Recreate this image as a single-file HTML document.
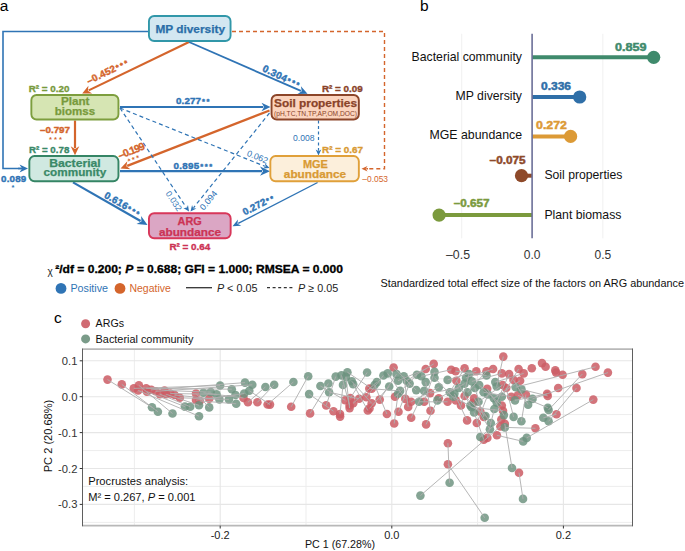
<!DOCTYPE html>
<html><head><meta charset="utf-8"><style>
html,body{margin:0;padding:0;background:#fff;}
svg{display:block;font-family:"Liberation Sans", sans-serif;}
</style></head><body>
<svg width="685" height="551" viewBox="0 0 685 551">
<rect width="685" height="551" fill="#fff"/>
<text x="-0.3" y="10.8" font-size="15.5" fill="#000" >a</text>
<polyline points="148,31.5 3,31.5 3,168.5 22,168.5" fill="none" stroke="#2f74b5" stroke-width="1.6"/>
<line x1="18" y1="168.5" x2="21.20" y2="168.50" stroke="#2f74b5" stroke-width="1.6"/>
<path d="M28.00,168.50 L19.50,172.50 L22.05,168.50 L19.50,164.50 Z" fill="#2f74b5"/>
<polyline points="232,31.5 384.5,31.5 384.5,168.8 368,168.8" fill="none" stroke="#d4652c" stroke-width="1.4" stroke-dasharray="4,3"/>
<line x1="368" y1="168.8" x2="366.30" y2="168.80" stroke="#d4652c" stroke-width="1.4"/>
<path d="M361.50,168.80 L367.50,166.00 L365.70,168.80 L367.50,171.60 Z" fill="#d4652c"/>
<line x1="189" y1="42" x2="88.69" y2="90.37" stroke="#d4652c" stroke-width="2.2"/>
<path d="M82.20,93.50 L88.44,85.72 L87.87,90.76 L92.17,93.46 Z" fill="#d4652c"/>
<line x1="189" y1="42" x2="300.90" y2="90.92" stroke="#2f74b5" stroke-width="1.8"/>
<path d="M307.50,93.80 L297.57,94.04 L301.73,91.28 L300.94,86.35 Z" fill="#2f74b5"/>
<line x1="120" y1="107" x2="263.30" y2="107.00" stroke="#2f74b5" stroke-width="1.9"/>
<path d="M270.50,107.00 L261.50,111.20 L264.20,107.00 L261.50,102.80 Z" fill="#2f74b5"/>
<line x1="75" y1="120.5" x2="75.00" y2="148.10" stroke="#d4652c" stroke-width="2.2"/>
<path d="M75.00,155.30 L70.70,146.30 L75.00,149.00 L79.30,146.30 Z" fill="#d4652c"/>
<line x1="269.5" y1="110.5" x2="127.21" y2="165.89" stroke="#d4652c" stroke-width="2.2"/>
<path d="M120.50,168.50 L127.33,161.23 L126.37,166.21 L130.45,169.24 Z" fill="#d4652c"/>
<line x1="120" y1="171.2" x2="262.00" y2="171.20" stroke="#2f74b5" stroke-width="2.2"/>
<path d="M270.00,171.20 L260.00,175.80 L263.00,171.20 L260.00,166.60 Z" fill="#2f74b5"/>
<line x1="120" y1="108" x2="265.05" y2="166.31" stroke="#2f74b5" stroke-width="1.2" stroke-dasharray="4,3"/>
<path d="M269.50,168.10 L262.89,168.46 L265.60,166.53 L264.98,163.26 Z" fill="#2f74b5"/>
<line x1="120" y1="108" x2="186.34" y2="207.51" stroke="#2f74b5" stroke-width="1.2" stroke-dasharray="4,3"/>
<path d="M189.00,211.50 L183.34,208.06 L186.67,208.01 L188.00,204.95 Z" fill="#2f74b5"/>
<line x1="269.5" y1="113" x2="193.50" y2="207.76" stroke="#2f74b5" stroke-width="1.2" stroke-dasharray="4,3"/>
<path d="M190.50,211.50 L192.07,205.07 L193.13,208.22 L196.44,208.57 Z" fill="#2f74b5"/>
<line x1="318.5" y1="120.5" x2="318.50" y2="150.70" stroke="#2f74b5" stroke-width="1.2" stroke-dasharray="3,2.5"/>
<path d="M318.50,155.50 L315.70,149.50 L318.50,151.30 L321.30,149.50 Z" fill="#2f74b5"/>
<line x1="73" y1="182.4" x2="140.56" y2="221.03" stroke="#2f74b5" stroke-width="2.2"/>
<path d="M147.50,225.00 L136.54,224.03 L141.42,221.53 L141.10,216.04 Z" fill="#2f74b5"/>
<line x1="317.6" y1="182.5" x2="238.19" y2="223.37" stroke="#2f74b5" stroke-width="1.4"/>
<path d="M232.50,226.30 L237.97,219.44 L237.48,223.74 L241.26,225.84 Z" fill="#2f74b5"/>
<rect x="148.95" y="15.95" width="81.6" height="25.1" rx="5.2" ry="5.2" fill="#d3e7f1" stroke="#3197a9" stroke-width="1.9"/>
<rect x="31.349999999999998" y="94.95" width="87.1" height="24.6" rx="5.2" ry="5.2" fill="#d6e5b3" stroke="#7d9e3e" stroke-width="1.9"/>
<rect x="271.55" y="94.95" width="87.29999999999998" height="24.6" rx="5.2" ry="5.2" fill="#fbd4be" stroke="#8c4529" stroke-width="1.9"/>
<rect x="29.349999999999998" y="156.04999999999998" width="89.1" height="25.199999999999996" rx="5.2" ry="5.2" fill="#d0e9e1" stroke="#358565" stroke-width="1.9"/>
<rect x="270.34999999999997" y="156.04999999999998" width="88.50000000000003" height="25.199999999999996" rx="5.2" ry="5.2" fill="#fcefdb" stroke="#e0a03a" stroke-width="1.9"/>
<rect x="148.95" y="213.25" width="81.69999999999999" height="24.99999999999998" rx="5.2" ry="5.2" fill="#dba6c4" stroke="#d8375a" stroke-width="1.9"/>
<text x="190.2" y="32.7" font-size="11.8" fill="#2a6ea8" font-weight="bold" stroke="#2a6ea8" stroke-width="0.25" text-anchor="middle" textLength="69.6" lengthAdjust="spacingAndGlyphs" >MP diversity</text>
<text x="75.2" y="105.3" font-size="10.6" fill="#789a3c" font-weight="bold" stroke="#789a3c" stroke-width="0.25" text-anchor="middle" textLength="28.6" lengthAdjust="spacingAndGlyphs" >Plant</text>
<text x="75" y="115.3" font-size="10.6" fill="#789a3c" font-weight="bold" stroke="#789a3c" stroke-width="0.25" text-anchor="middle" textLength="40.3" lengthAdjust="spacingAndGlyphs" >biomss</text>
<text x="315.5" y="107.3" font-size="11.2" fill="#8a4329" font-weight="bold" stroke="#8a4329" stroke-width="0.25" text-anchor="middle" textLength="83" lengthAdjust="spacingAndGlyphs" >Soil properties</text>
<text x="315.5" y="116" font-size="6.7" fill="#8a4329" text-anchor="middle" textLength="83" lengthAdjust="spacingAndGlyphs" >(pH,TC,TN,TP,AP,OM,DOC)</text>
<text x="75" y="166.8" font-size="10.6" fill="#3a8968" font-weight="bold" stroke="#3a8968" stroke-width="0.25" text-anchor="middle" textLength="51.5" lengthAdjust="spacingAndGlyphs" >Bacterial</text>
<text x="74.9" y="176.4" font-size="10.6" fill="#3a8968" font-weight="bold" stroke="#3a8968" stroke-width="0.25" text-anchor="middle" textLength="62.6" lengthAdjust="spacingAndGlyphs" >community</text>
<text x="315.4" y="167.8" font-size="10.6" fill="#d99a33" font-weight="bold" stroke="#d99a33" stroke-width="0.25" text-anchor="middle" textLength="25" lengthAdjust="spacingAndGlyphs" >MGE</text>
<text x="315" y="177.8" font-size="10.6" fill="#d99a33" font-weight="bold" stroke="#d99a33" stroke-width="0.25" text-anchor="middle" textLength="62.3" lengthAdjust="spacingAndGlyphs" >abundance</text>
<text x="189.7" y="224.8" font-size="10.6" fill="#cc3355" font-weight="bold" stroke="#cc3355" stroke-width="0.25" text-anchor="middle" textLength="24.2" lengthAdjust="spacingAndGlyphs" >ARG</text>
<text x="190" y="235.7" font-size="10.6" fill="#cc3355" font-weight="bold" stroke="#cc3355" stroke-width="0.25" text-anchor="middle" textLength="62.2" lengthAdjust="spacingAndGlyphs" >abundance</text>
<text x="28.7" y="92" font-size="9.8" fill="#789a3c" font-weight="bold" stroke="#789a3c" stroke-width="0.35" textLength="40.8" lengthAdjust="spacingAndGlyphs" >R² = 0.20</text>
<text x="321.9" y="92" font-size="9.8" fill="#8a4329" font-weight="bold" stroke="#8a4329" stroke-width="0.35" textLength="40.9" lengthAdjust="spacingAndGlyphs" >R² = 0.09</text>
<text x="29" y="152.9" font-size="9.8" fill="#3a8968" font-weight="bold" stroke="#3a8968" stroke-width="0.35" textLength="40.3" lengthAdjust="spacingAndGlyphs" >R² = 0.78</text>
<text x="322" y="152.9" font-size="9.8" fill="#d99a33" font-weight="bold" stroke="#d99a33" stroke-width="0.35" textLength="41" lengthAdjust="spacingAndGlyphs" >R² = 0.67</text>
<text x="169.4" y="249.5" font-size="9.8" fill="#cc3355" font-weight="bold" stroke="#cc3355" stroke-width="0.35" textLength="40.8" lengthAdjust="spacingAndGlyphs" >R² = 0.64</text>
<text x="40" y="133" font-size="9.8" font-weight="bold" fill="#d4652c" stroke="#d4652c" stroke-width="0.42"><tspan textLength="30" lengthAdjust="spacing">–0.797</tspan></text>
<text x="49" y="142" font-size="7.5" font-weight="bold" fill="#d4652c" textLength="13" lengthAdjust="spacing">***</text>
<text x="1" y="181.9" font-size="9.8" font-weight="bold" fill="#2f74b5" stroke="#2f74b5" stroke-width="0.42"><tspan textLength="25.3" lengthAdjust="spacing">0.089</tspan></text>
<text x="11.5" y="190" font-size="7.5" font-weight="bold" fill="#2f74b5">*</text>
<text x="173.6" y="168.8" font-size="9.8" font-weight="bold" fill="#2f74b5" stroke="#2f74b5" stroke-width="0.42"><tspan textLength="25.6" lengthAdjust="spacing">0.895</tspan><tspan font-size="7.5" dx="0.8" dy="0" textLength="12" lengthAdjust="spacing">***</tspan></text>
<text x="176" y="104" font-size="9.8" font-weight="bold" fill="#2f74b5" stroke="#2f74b5" stroke-width="0.42"><tspan textLength="25" lengthAdjust="spacing">0.277</tspan><tspan font-size="7.5" dx="0.8" dy="0" textLength="7.5" lengthAdjust="spacing">**</tspan></text>
<text x="88.8" y="84.5" font-size="9.8" font-weight="bold" fill="#d4652c" stroke="#d4652c" stroke-width="0.42" transform="rotate(-26.3 88.8 84.5)"><tspan textLength="31" lengthAdjust="spacing">–0.452</tspan><tspan font-size="7.5" dx="0.8" dy="0" textLength="12.5" lengthAdjust="spacing">***</tspan></text>
<text x="261.8" y="70.8" font-size="9.8" font-weight="bold" fill="#2f74b5" stroke="#2f74b5" stroke-width="0.42" transform="rotate(25.5 261.8 70.8)"><tspan textLength="26" lengthAdjust="spacing">0.304</tspan><tspan font-size="7.5" dx="0.8" dy="0" textLength="12.5" lengthAdjust="spacing">***</tspan></text>
<text x="103.5" y="197.2" font-size="9.8" font-weight="bold" fill="#2f74b5" stroke="#2f74b5" stroke-width="0.42" transform="rotate(29.8 103.5 197.2)"><tspan textLength="25.5" lengthAdjust="spacing">0.616</tspan><tspan font-size="7.5" dx="0.8" dy="0" textLength="12.5" lengthAdjust="spacing">***</tspan></text>
<text x="244.8" y="215.5" font-size="9.8" font-weight="bold" fill="#2f74b5" stroke="#2f74b5" stroke-width="0.42" transform="rotate(-27.3 244.8 215.5)"><tspan textLength="25" lengthAdjust="spacing">0.272</tspan><tspan font-size="7.5" dx="0.8" dy="0" textLength="7.5" lengthAdjust="spacing">**</tspan></text>
<text x="119.8" y="159.2" font-size="10.6" font-weight="bold" fill="#d4652c" stroke="#d4652c" stroke-width="0.3" transform="rotate(-21.5 119.8 159.2)"><tspan textLength="28" lengthAdjust="spacing">–0.199</tspan></text>
<text x="129" y="164.1" font-size="7.5" font-weight="bold" fill="#d4652c" textLength="12" lengthAdjust="spacing" transform="rotate(-21.5 129 164.1)">***</text>
<text x="293" y="141.1" font-size="8.6" fill="#2f74b5" textLength="21.5" lengthAdjust="spacingAndGlyphs" >0.008</text>
<text x="362.3" y="182" font-size="8.2" fill="#d4652c" textLength="25.7" lengthAdjust="spacingAndGlyphs" >–0.053</text>
<text x="256.35" y="159.67" font-size="8.6" fill="#2f74b5" text-anchor="middle" textLength="22" lengthAdjust="spacingAndGlyphs" transform="rotate(21.9 256.35 159.67)">0.062</text>
<text x="171.43" y="202.73" font-size="8.6" fill="#2f74b5" text-anchor="middle" textLength="22" lengthAdjust="spacingAndGlyphs" transform="rotate(56 171.43 202.73)">0.032</text>
<text x="210.81" y="202.15" font-size="8.6" fill="#2f74b5" text-anchor="middle" textLength="22" lengthAdjust="spacingAndGlyphs" transform="rotate(-51 210.81 202.15)">0.094</text>
<text x="47.5" y="275" font-size="10" fill="#222">χ</text>
<text x="55.2" y="273.2" font-size="10.3" font-weight="bold" fill="#000" stroke="#000" stroke-width="0.3" textLength="287.8" lengthAdjust="spacingAndGlyphs">²/df = 0.200; <tspan font-style="italic">P</tspan> = 0.688; GFI = 1.000; RMSEA = 0.000</text>
<circle cx="61" cy="288.4" r="5.4" fill="#2f74b5"/>
<text x="70.4" y="292.4" font-size="10.8" fill="#2f74b5" textLength="37.6" lengthAdjust="spacingAndGlyphs" >Positive</text>
<circle cx="120" cy="288.4" r="5.4" fill="#d4652c"/>
<text x="129.5" y="292.4" font-size="10.8" fill="#d4652c" textLength="41.3" lengthAdjust="spacingAndGlyphs" >Negative</text>
<line x1="186" y1="287.7" x2="212" y2="287.7" stroke="#333" stroke-width="1.3"/>
<text x="216.9" y="292.4" font-size="10.8" fill="#222"><tspan font-style="italic">P</tspan> &lt; 0.05</text>
<line x1="267" y1="287.7" x2="293" y2="287.7" stroke="#333" stroke-width="1.2" stroke-dasharray="3,2.6"/>
<text x="298" y="292.4" font-size="10.8" fill="#222"><tspan font-style="italic">P</tspan> ≥ 0.05</text>
<text x="420" y="10.9" font-size="15.5" fill="#000" >b</text>
<line x1="461.7" y1="33.8" x2="461.7" y2="238.3" stroke="#ececec" stroke-width="0.8"/>
<line x1="602.8" y1="33.8" x2="602.8" y2="238.3" stroke="#ececec" stroke-width="0.8"/>
<line x1="532.1" y1="57.3" x2="653.7" y2="57.3" stroke="#3f8a6c" stroke-width="4"/>
<circle cx="653.7" cy="57.3" r="6.6" fill="#3f8a6c"/>
<line x1="532.1" y1="97.0" x2="579.7" y2="97.0" stroke="#2f6fa8" stroke-width="4"/>
<circle cx="579.7" cy="97.0" r="6.6" fill="#2f6fa8"/>
<line x1="532.1" y1="136.4" x2="570.6" y2="136.4" stroke="#dc9a36" stroke-width="4"/>
<circle cx="570.6" cy="136.4" r="6.6" fill="#dc9a36"/>
<line x1="532.1" y1="175.7" x2="521.5" y2="175.7" stroke="#8e4a2a" stroke-width="4"/>
<circle cx="521.5" cy="175.7" r="6.6" fill="#8e4a2a"/>
<line x1="532.1" y1="215.1" x2="439.1" y2="215.1" stroke="#7b9a3d" stroke-width="4"/>
<circle cx="439.1" cy="215.1" r="6.6" fill="#7b9a3d"/>
<line x1="532.1" y1="33.8" x2="532.1" y2="238.3" stroke="#6b6f98" stroke-width="1.6"/>
<text x="522" y="60.6" font-size="12.2" fill="#111" text-anchor="end" textLength="110.5" lengthAdjust="spacingAndGlyphs" >Bacterial community</text>
<text x="522" y="99.8" font-size="12.2" fill="#111" text-anchor="end" textLength="66.4" lengthAdjust="spacingAndGlyphs" >MP diversity</text>
<text x="522" y="138.8" font-size="12.2" fill="#111" text-anchor="end" textLength="92.5" lengthAdjust="spacingAndGlyphs" >MGE abundance</text>
<text x="544.4" y="179.3" font-size="12.2" fill="#111" textLength="78" lengthAdjust="spacingAndGlyphs" >Soil properties</text>
<text x="544.4" y="218.7" font-size="12.2" fill="#111" textLength="77" lengthAdjust="spacingAndGlyphs" >Plant biomass</text>
<text x="615" y="51" font-size="10" font-weight="bold" fill="#3f8a6c" stroke="#3f8a6c" stroke-width="0.45" textLength="31.5" lengthAdjust="spacingAndGlyphs">0.859</text>
<text x="541" y="90" font-size="10" font-weight="bold" fill="#2f6fa8" stroke="#2f6fa8" stroke-width="0.45" textLength="30" lengthAdjust="spacingAndGlyphs">0.336</text>
<text x="536" y="129" font-size="10" font-weight="bold" fill="#dc9a36" stroke="#dc9a36" stroke-width="0.45" textLength="31" lengthAdjust="spacingAndGlyphs">0.272</text>
<text x="489.6" y="163.8" font-size="10" font-weight="bold" fill="#8e4a2a" stroke="#8e4a2a" stroke-width="0.45" textLength="36" lengthAdjust="spacingAndGlyphs">–0.075</text>
<text x="453.8" y="207.4" font-size="10" font-weight="bold" fill="#7b9a3d" stroke="#7b9a3d" stroke-width="0.45" textLength="35.8" lengthAdjust="spacingAndGlyphs">–0.657</text>
<text x="458" y="258.7" font-size="12" fill="#333" text-anchor="middle" textLength="24" lengthAdjust="spacingAndGlyphs" >–0.5</text>
<text x="532.1" y="258.7" font-size="12" fill="#333" text-anchor="middle" >0.0</text>
<text x="602.8" y="258.7" font-size="12" fill="#333" text-anchor="middle" >0.5</text>
<text x="380.5" y="286.7" font-size="10.9" fill="#111" textLength="303.5" lengthAdjust="spacingAndGlyphs" >Standardized total effect size of the factors on ARG abundance</text>
<text x="54" y="323.2" font-size="15.5" fill="#000" >c</text>
<circle cx="85.6" cy="323.7" r="4.5" fill="#d06a72"/>
<text x="95.6" y="327.2" font-size="10.8" fill="#111" textLength="28.4" lengthAdjust="spacingAndGlyphs" >ARGs</text>
<circle cx="85.6" cy="338.9" r="4.5" fill="#7a9b89"/>
<text x="95.6" y="342.8" font-size="10.9" fill="#111" textLength="97.9" lengthAdjust="spacingAndGlyphs" >Bacterial community</text>
<line x1="134.4" y1="349.1" x2="134.4" y2="525.7" stroke="#ededed" stroke-width="1"/>
<line x1="306.0" y1="349.1" x2="306.0" y2="525.7" stroke="#ededed" stroke-width="1"/>
<line x1="477.6" y1="349.1" x2="477.6" y2="525.7" stroke="#ededed" stroke-width="1"/>
<line x1="82.5" y1="378.8" x2="632.5" y2="378.8" stroke="#ededed" stroke-width="1"/>
<line x1="82.5" y1="414.6" x2="632.5" y2="414.6" stroke="#ededed" stroke-width="1"/>
<line x1="82.5" y1="450.6" x2="632.5" y2="450.6" stroke="#ededed" stroke-width="1"/>
<line x1="82.5" y1="486.4" x2="632.5" y2="486.4" stroke="#ededed" stroke-width="1"/>
<line x1="82.5" y1="522.4" x2="632.5" y2="522.4" stroke="#ededed" stroke-width="1"/>
<line x1="220.2" y1="349.1" x2="220.2" y2="525.7" stroke="#e6e6e6" stroke-width="1.1"/>
<line x1="391.8" y1="349.1" x2="391.8" y2="525.7" stroke="#e6e6e6" stroke-width="1.1"/>
<line x1="563.4" y1="349.1" x2="563.4" y2="525.7" stroke="#e6e6e6" stroke-width="1.1"/>
<line x1="82.5" y1="360.8" x2="632.5" y2="360.8" stroke="#e6e6e6" stroke-width="1.1"/>
<line x1="82.5" y1="396.7" x2="632.5" y2="396.7" stroke="#e6e6e6" stroke-width="1.1"/>
<line x1="82.5" y1="432.6" x2="632.5" y2="432.6" stroke="#e6e6e6" stroke-width="1.1"/>
<line x1="82.5" y1="468.5" x2="632.5" y2="468.5" stroke="#e6e6e6" stroke-width="1.1"/>
<line x1="82.5" y1="504.4" x2="632.5" y2="504.4" stroke="#e6e6e6" stroke-width="1.1"/>
<circle cx="107.5" cy="379.6" r="4.3" fill="#cc5d65" fill-opacity="0.86"/>
<circle cx="121.8" cy="384.4" r="4.3" fill="#cc5d65" fill-opacity="0.86"/>
<circle cx="133.8" cy="388.4" r="4.3" fill="#cc5d65" fill-opacity="0.86"/>
<circle cx="138.9" cy="385.4" r="4.3" fill="#cc5d65" fill-opacity="0.86"/>
<circle cx="138.2" cy="390.5" r="4.3" fill="#cc5d65" fill-opacity="0.86"/>
<circle cx="146.2" cy="388.4" r="4.3" fill="#cc5d65" fill-opacity="0.86"/>
<circle cx="151.3" cy="389.8" r="4.3" fill="#cc5d65" fill-opacity="0.86"/>
<circle cx="155.7" cy="391.3" r="4.3" fill="#cc5d65" fill-opacity="0.86"/>
<circle cx="164.5" cy="390.5" r="4.3" fill="#cc5d65" fill-opacity="0.86"/>
<circle cx="170.3" cy="393.5" r="4.3" fill="#cc5d65" fill-opacity="0.86"/>
<circle cx="174.7" cy="395" r="4.3" fill="#cc5d65" fill-opacity="0.86"/>
<circle cx="179.8" cy="397.8" r="4.3" fill="#cc5d65" fill-opacity="0.86"/>
<circle cx="160" cy="394.2" r="4.3" fill="#cc5d65" fill-opacity="0.86"/>
<circle cx="146.9" cy="391.6" r="4.3" fill="#cc5d65" fill-opacity="0.86"/>
<circle cx="166.2" cy="394.3" r="4.3" fill="#cc5d65" fill-opacity="0.86"/>
<circle cx="196" cy="393.6" r="4.3" fill="#cc5d65" fill-opacity="0.86"/>
<circle cx="196" cy="400.1" r="4.3" fill="#cc5d65" fill-opacity="0.86"/>
<circle cx="199.7" cy="400.9" r="4.3" fill="#cc5d65" fill-opacity="0.86"/>
<circle cx="209.2" cy="398.7" r="4.3" fill="#cc5d65" fill-opacity="0.86"/>
<circle cx="243.5" cy="398" r="4.3" fill="#cc5d65" fill-opacity="0.86"/>
<circle cx="247.9" cy="402.3" r="4.3" fill="#cc5d65" fill-opacity="0.86"/>
<circle cx="257.4" cy="402.3" r="4.3" fill="#cc5d65" fill-opacity="0.86"/>
<circle cx="267.6" cy="404.5" r="4.3" fill="#cc5d65" fill-opacity="0.86"/>
<circle cx="270" cy="404.6" r="4.3" fill="#cc5d65" fill-opacity="0.86"/>
<circle cx="291.2" cy="406.8" r="4.3" fill="#cc5d65" fill-opacity="0.86"/>
<circle cx="310.1" cy="413.4" r="4.3" fill="#cc5d65" fill-opacity="0.86"/>
<circle cx="326.2" cy="405.4" r="4.3" fill="#cc5d65" fill-opacity="0.86"/>
<circle cx="333.5" cy="411.2" r="4.3" fill="#cc5d65" fill-opacity="0.86"/>
<circle cx="340" cy="414.1" r="4.3" fill="#cc5d65" fill-opacity="0.86"/>
<circle cx="345.2" cy="400.3" r="4.3" fill="#cc5d65" fill-opacity="0.86"/>
<circle cx="350.3" cy="398.1" r="4.3" fill="#cc5d65" fill-opacity="0.86"/>
<circle cx="349.6" cy="405.4" r="4.3" fill="#cc5d65" fill-opacity="0.86"/>
<circle cx="353.2" cy="403.2" r="4.3" fill="#cc5d65" fill-opacity="0.86"/>
<circle cx="359.1" cy="398.8" r="4.3" fill="#cc5d65" fill-opacity="0.86"/>
<circle cx="366.4" cy="397.3" r="4.3" fill="#cc5d65" fill-opacity="0.86"/>
<circle cx="369.3" cy="388.6" r="4.3" fill="#cc5d65" fill-opacity="0.86"/>
<circle cx="367.8" cy="410.5" r="4.3" fill="#cc5d65" fill-opacity="0.86"/>
<circle cx="393.6" cy="367.5" r="4.3" fill="#cc5d65" fill-opacity="0.86"/>
<circle cx="433.7" cy="363.9" r="4.3" fill="#cc5d65" fill-opacity="0.86"/>
<circle cx="425.7" cy="369" r="4.3" fill="#cc5d65" fill-opacity="0.86"/>
<circle cx="451.2" cy="369.7" r="4.3" fill="#cc5d65" fill-opacity="0.86"/>
<circle cx="455.6" cy="371.2" r="4.3" fill="#cc5d65" fill-opacity="0.86"/>
<circle cx="371.7" cy="388.7" r="4.3" fill="#cc5d65" fill-opacity="0.86"/>
<circle cx="371.7" cy="403.3" r="4.3" fill="#cc5d65" fill-opacity="0.86"/>
<circle cx="379.7" cy="399.6" r="4.3" fill="#cc5d65" fill-opacity="0.86"/>
<circle cx="395" cy="396.7" r="4.3" fill="#cc5d65" fill-opacity="0.86"/>
<circle cx="405.3" cy="398.9" r="4.3" fill="#cc5d65" fill-opacity="0.86"/>
<circle cx="411.1" cy="401.8" r="4.3" fill="#cc5d65" fill-opacity="0.86"/>
<circle cx="424.2" cy="401.8" r="4.3" fill="#cc5d65" fill-opacity="0.86"/>
<circle cx="430.1" cy="393.1" r="4.3" fill="#cc5d65" fill-opacity="0.86"/>
<circle cx="438.8" cy="398.2" r="4.3" fill="#cc5d65" fill-opacity="0.86"/>
<circle cx="447.6" cy="401.8" r="4.3" fill="#cc5d65" fill-opacity="0.86"/>
<circle cx="456.4" cy="380.7" r="4.3" fill="#cc5d65" fill-opacity="0.86"/>
<circle cx="408.2" cy="406.9" r="4.3" fill="#cc5d65" fill-opacity="0.86"/>
<circle cx="430.5" cy="410.8" r="4.3" fill="#cc5d65" fill-opacity="0.86"/>
<circle cx="369.5" cy="408.4" r="4.3" fill="#cc5d65" fill-opacity="0.86"/>
<circle cx="411.2" cy="417.8" r="4.3" fill="#cc5d65" fill-opacity="0.86"/>
<circle cx="426.1" cy="424.4" r="4.3" fill="#cc5d65" fill-opacity="0.86"/>
<circle cx="340.1" cy="416.6" r="4.3" fill="#cc5d65" fill-opacity="0.86"/>
<circle cx="349.6" cy="408.1" r="4.3" fill="#cc5d65" fill-opacity="0.86"/>
<circle cx="386.9" cy="414" r="4.3" fill="#cc5d65" fill-opacity="0.86"/>
<circle cx="394.2" cy="423.5" r="4.3" fill="#cc5d65" fill-opacity="0.86"/>
<circle cx="398.5" cy="411.8" r="4.3" fill="#cc5d65" fill-opacity="0.86"/>
<circle cx="503.3" cy="356.6" r="4.3" fill="#cc5d65" fill-opacity="0.86"/>
<circle cx="464.6" cy="368.2" r="4.3" fill="#cc5d65" fill-opacity="0.86"/>
<circle cx="476.3" cy="371.2" r="4.3" fill="#cc5d65" fill-opacity="0.86"/>
<circle cx="486.5" cy="371.2" r="4.3" fill="#cc5d65" fill-opacity="0.86"/>
<circle cx="493.1" cy="369" r="4.3" fill="#cc5d65" fill-opacity="0.86"/>
<circle cx="501.8" cy="373.4" r="4.3" fill="#cc5d65" fill-opacity="0.86"/>
<circle cx="509.1" cy="374.1" r="4.3" fill="#cc5d65" fill-opacity="0.86"/>
<circle cx="518.6" cy="369" r="4.3" fill="#cc5d65" fill-opacity="0.86"/>
<circle cx="523.7" cy="373.4" r="4.3" fill="#cc5d65" fill-opacity="0.86"/>
<circle cx="531.8" cy="368.2" r="4.3" fill="#cc5d65" fill-opacity="0.86"/>
<circle cx="542" cy="363.1" r="4.3" fill="#cc5d65" fill-opacity="0.86"/>
<circle cx="545.6" cy="366.8" r="4.3" fill="#cc5d65" fill-opacity="0.86"/>
<circle cx="513.5" cy="379.9" r="4.3" fill="#cc5d65" fill-opacity="0.86"/>
<circle cx="520.1" cy="380.7" r="4.3" fill="#cc5d65" fill-opacity="0.86"/>
<circle cx="487.2" cy="388.7" r="4.3" fill="#cc5d65" fill-opacity="0.86"/>
<circle cx="502.6" cy="385" r="4.3" fill="#cc5d65" fill-opacity="0.86"/>
<circle cx="506.2" cy="388" r="4.3" fill="#cc5d65" fill-opacity="0.86"/>
<circle cx="511.3" cy="396.7" r="4.3" fill="#cc5d65" fill-opacity="0.86"/>
<circle cx="517.9" cy="395.3" r="4.3" fill="#cc5d65" fill-opacity="0.86"/>
<circle cx="525.9" cy="394.5" r="4.3" fill="#cc5d65" fill-opacity="0.86"/>
<circle cx="547.1" cy="393.8" r="4.3" fill="#cc5d65" fill-opacity="0.86"/>
<circle cx="455.8" cy="400.4" r="4.3" fill="#cc5d65" fill-opacity="0.86"/>
<circle cx="461" cy="405.5" r="4.3" fill="#cc5d65" fill-opacity="0.86"/>
<circle cx="464.6" cy="396" r="4.3" fill="#cc5d65" fill-opacity="0.86"/>
<circle cx="474.1" cy="398.2" r="4.3" fill="#cc5d65" fill-opacity="0.86"/>
<circle cx="473.4" cy="402.6" r="4.3" fill="#cc5d65" fill-opacity="0.86"/>
<circle cx="501.8" cy="405.5" r="4.3" fill="#cc5d65" fill-opacity="0.86"/>
<circle cx="555.3" cy="370.4" r="4.3" fill="#cc5d65" fill-opacity="0.86"/>
<circle cx="556.1" cy="372.6" r="4.3" fill="#cc5d65" fill-opacity="0.86"/>
<circle cx="562.6" cy="374.8" r="4.3" fill="#cc5d65" fill-opacity="0.86"/>
<circle cx="582.3" cy="374.1" r="4.3" fill="#cc5d65" fill-opacity="0.86"/>
<circle cx="595.5" cy="366.8" r="4.3" fill="#cc5d65" fill-opacity="0.86"/>
<circle cx="607.9" cy="372.6" r="4.3" fill="#cc5d65" fill-opacity="0.86"/>
<circle cx="558.2" cy="388" r="4.3" fill="#cc5d65" fill-opacity="0.86"/>
<circle cx="576.5" cy="388" r="4.3" fill="#cc5d65" fill-opacity="0.86"/>
<circle cx="593.3" cy="399.6" r="4.3" fill="#cc5d65" fill-opacity="0.86"/>
<circle cx="467.1" cy="420.4" r="4.3" fill="#cc5d65" fill-opacity="0.86"/>
<circle cx="476.8" cy="423" r="4.3" fill="#cc5d65" fill-opacity="0.86"/>
<circle cx="480.3" cy="411.6" r="4.3" fill="#cc5d65" fill-opacity="0.86"/>
<circle cx="483.8" cy="416.9" r="4.3" fill="#cc5d65" fill-opacity="0.86"/>
<circle cx="503" cy="410.8" r="4.3" fill="#cc5d65" fill-opacity="0.86"/>
<circle cx="501.3" cy="419.5" r="4.3" fill="#cc5d65" fill-opacity="0.86"/>
<circle cx="500.4" cy="426.5" r="4.3" fill="#cc5d65" fill-opacity="0.86"/>
<circle cx="504.8" cy="423.9" r="4.3" fill="#cc5d65" fill-opacity="0.86"/>
<circle cx="496.9" cy="435.3" r="4.3" fill="#cc5d65" fill-opacity="0.86"/>
<circle cx="487.3" cy="437.9" r="4.3" fill="#cc5d65" fill-opacity="0.86"/>
<circle cx="483.8" cy="439.7" r="4.3" fill="#cc5d65" fill-opacity="0.86"/>
<circle cx="535.4" cy="428.3" r="4.3" fill="#cc5d65" fill-opacity="0.86"/>
<circle cx="556.5" cy="414.3" r="4.3" fill="#cc5d65" fill-opacity="0.86"/>
<circle cx="447.9" cy="443.2" r="4.3" fill="#cc5d65" fill-opacity="0.86"/>
<circle cx="447.9" cy="464.2" r="4.3" fill="#cc5d65" fill-opacity="0.86"/>
<circle cx="547.7" cy="395.9" r="4.3" fill="#cc5d65" fill-opacity="0.86"/>
<circle cx="519" cy="472.7" r="4.3" fill="#cc5d65" fill-opacity="0.86"/>
<circle cx="152" cy="407.3" r="4.3" fill="#6e937f" fill-opacity="0.84"/>
<circle cx="157.9" cy="411.7" r="4.3" fill="#6e937f" fill-opacity="0.84"/>
<circle cx="172.5" cy="413.5" r="4.3" fill="#6e937f" fill-opacity="0.84"/>
<circle cx="184.9" cy="406.6" r="4.3" fill="#6e937f" fill-opacity="0.84"/>
<circle cx="220.1" cy="385.5" r="4.3" fill="#6e937f" fill-opacity="0.84"/>
<circle cx="231.8" cy="389.2" r="4.3" fill="#6e937f" fill-opacity="0.84"/>
<circle cx="245" cy="382.6" r="4.3" fill="#6e937f" fill-opacity="0.84"/>
<circle cx="252.3" cy="384.8" r="4.3" fill="#6e937f" fill-opacity="0.84"/>
<circle cx="265.4" cy="387" r="4.3" fill="#6e937f" fill-opacity="0.84"/>
<circle cx="274.2" cy="384.8" r="4.3" fill="#6e937f" fill-opacity="0.84"/>
<circle cx="210.7" cy="392.1" r="4.3" fill="#6e937f" fill-opacity="0.84"/>
<circle cx="203.4" cy="392.8" r="4.3" fill="#6e937f" fill-opacity="0.84"/>
<circle cx="219.4" cy="399.4" r="4.3" fill="#6e937f" fill-opacity="0.84"/>
<circle cx="228.9" cy="399.4" r="4.3" fill="#6e937f" fill-opacity="0.84"/>
<circle cx="236.2" cy="403.8" r="4.3" fill="#6e937f" fill-opacity="0.84"/>
<circle cx="244.2" cy="393.6" r="4.3" fill="#6e937f" fill-opacity="0.84"/>
<circle cx="249.3" cy="390.7" r="4.3" fill="#6e937f" fill-opacity="0.84"/>
<circle cx="209.2" cy="407.4" r="4.3" fill="#6e937f" fill-opacity="0.84"/>
<circle cx="199" cy="405.3" r="4.3" fill="#6e937f" fill-opacity="0.84"/>
<circle cx="190.2" cy="406.7" r="4.3" fill="#6e937f" fill-opacity="0.84"/>
<circle cx="199" cy="416.2" r="4.3" fill="#6e937f" fill-opacity="0.84"/>
<circle cx="216.5" cy="394.3" r="4.3" fill="#6e937f" fill-opacity="0.84"/>
<circle cx="235.5" cy="395" r="4.3" fill="#6e937f" fill-opacity="0.84"/>
<circle cx="293.4" cy="382" r="4.3" fill="#6e937f" fill-opacity="0.84"/>
<circle cx="308.2" cy="376.2" r="4.3" fill="#6e937f" fill-opacity="0.84"/>
<circle cx="309.1" cy="394.1" r="4.3" fill="#6e937f" fill-opacity="0.84"/>
<circle cx="320.4" cy="386" r="4.3" fill="#6e937f" fill-opacity="0.84"/>
<circle cx="328.4" cy="383.5" r="4.3" fill="#6e937f" fill-opacity="0.84"/>
<circle cx="329.1" cy="392.2" r="4.3" fill="#6e937f" fill-opacity="0.84"/>
<circle cx="335.7" cy="376.6" r="4.3" fill="#6e937f" fill-opacity="0.84"/>
<circle cx="341.5" cy="375.4" r="4.3" fill="#6e937f" fill-opacity="0.84"/>
<circle cx="347.4" cy="372.2" r="4.3" fill="#6e937f" fill-opacity="0.84"/>
<circle cx="345.9" cy="376.9" r="4.3" fill="#6e937f" fill-opacity="0.84"/>
<circle cx="343" cy="384.9" r="4.3" fill="#6e937f" fill-opacity="0.84"/>
<circle cx="351.8" cy="381.3" r="4.3" fill="#6e937f" fill-opacity="0.84"/>
<circle cx="353.2" cy="384.2" r="4.3" fill="#6e937f" fill-opacity="0.84"/>
<circle cx="367.1" cy="372.5" r="4.3" fill="#6e937f" fill-opacity="0.84"/>
<circle cx="383.4" cy="375.5" r="4.3" fill="#6e937f" fill-opacity="0.84"/>
<circle cx="387.7" cy="373.4" r="4.3" fill="#6e937f" fill-opacity="0.84"/>
<circle cx="376.8" cy="382.1" r="4.3" fill="#6e937f" fill-opacity="0.84"/>
<circle cx="374.6" cy="385" r="4.3" fill="#6e937f" fill-opacity="0.84"/>
<circle cx="389.2" cy="386.5" r="4.3" fill="#6e937f" fill-opacity="0.84"/>
<circle cx="396.5" cy="374.1" r="4.3" fill="#6e937f" fill-opacity="0.84"/>
<circle cx="403.8" cy="376.3" r="4.3" fill="#6e937f" fill-opacity="0.84"/>
<circle cx="398" cy="380.7" r="4.3" fill="#6e937f" fill-opacity="0.84"/>
<circle cx="400.1" cy="390.9" r="4.3" fill="#6e937f" fill-opacity="0.84"/>
<circle cx="398" cy="393.8" r="4.3" fill="#6e937f" fill-opacity="0.84"/>
<circle cx="406.7" cy="380.7" r="4.3" fill="#6e937f" fill-opacity="0.84"/>
<circle cx="409.6" cy="383.6" r="4.3" fill="#6e937f" fill-opacity="0.84"/>
<circle cx="416.9" cy="374.8" r="4.3" fill="#6e937f" fill-opacity="0.84"/>
<circle cx="421.3" cy="376.3" r="4.3" fill="#6e937f" fill-opacity="0.84"/>
<circle cx="416.2" cy="390.1" r="4.3" fill="#6e937f" fill-opacity="0.84"/>
<circle cx="424.2" cy="390.9" r="4.3" fill="#6e937f" fill-opacity="0.84"/>
<circle cx="425.7" cy="382.1" r="4.3" fill="#6e937f" fill-opacity="0.84"/>
<circle cx="434.5" cy="371.9" r="4.3" fill="#6e937f" fill-opacity="0.84"/>
<circle cx="434.5" cy="377.7" r="4.3" fill="#6e937f" fill-opacity="0.84"/>
<circle cx="438.8" cy="387.2" r="4.3" fill="#6e937f" fill-opacity="0.84"/>
<circle cx="447.6" cy="379.9" r="4.3" fill="#6e937f" fill-opacity="0.84"/>
<circle cx="449.8" cy="392.3" r="4.3" fill="#6e937f" fill-opacity="0.84"/>
<circle cx="453.4" cy="396.7" r="4.3" fill="#6e937f" fill-opacity="0.84"/>
<circle cx="419.1" cy="401.8" r="4.3" fill="#6e937f" fill-opacity="0.84"/>
<circle cx="437.4" cy="400.4" r="4.3" fill="#6e937f" fill-opacity="0.84"/>
<circle cx="469" cy="374.1" r="4.3" fill="#6e937f" fill-opacity="0.84"/>
<circle cx="466.1" cy="377.7" r="4.3" fill="#6e937f" fill-opacity="0.84"/>
<circle cx="486.5" cy="375.5" r="4.3" fill="#6e937f" fill-opacity="0.84"/>
<circle cx="471.9" cy="381.4" r="4.3" fill="#6e937f" fill-opacity="0.84"/>
<circle cx="464.6" cy="383.6" r="4.3" fill="#6e937f" fill-opacity="0.84"/>
<circle cx="479.2" cy="385" r="4.3" fill="#6e937f" fill-opacity="0.84"/>
<circle cx="474.8" cy="388" r="4.3" fill="#6e937f" fill-opacity="0.84"/>
<circle cx="495.3" cy="382.1" r="4.3" fill="#6e937f" fill-opacity="0.84"/>
<circle cx="496.7" cy="386.5" r="4.3" fill="#6e937f" fill-opacity="0.84"/>
<circle cx="458.8" cy="388" r="4.3" fill="#6e937f" fill-opacity="0.84"/>
<circle cx="454.4" cy="393.8" r="4.3" fill="#6e937f" fill-opacity="0.84"/>
<circle cx="467.5" cy="392.3" r="4.3" fill="#6e937f" fill-opacity="0.84"/>
<circle cx="483.6" cy="392.3" r="4.3" fill="#6e937f" fill-opacity="0.84"/>
<circle cx="488" cy="394.5" r="4.3" fill="#6e937f" fill-opacity="0.84"/>
<circle cx="493.8" cy="398.2" r="4.3" fill="#6e937f" fill-opacity="0.84"/>
<circle cx="501.8" cy="396.7" r="4.3" fill="#6e937f" fill-opacity="0.84"/>
<circle cx="496.7" cy="402.6" r="4.3" fill="#6e937f" fill-opacity="0.84"/>
<circle cx="515.7" cy="387.2" r="4.3" fill="#6e937f" fill-opacity="0.84"/>
<circle cx="521.5" cy="389.4" r="4.3" fill="#6e937f" fill-opacity="0.84"/>
<circle cx="515" cy="400.4" r="4.3" fill="#6e937f" fill-opacity="0.84"/>
<circle cx="532.5" cy="398.9" r="4.3" fill="#6e937f" fill-opacity="0.84"/>
<circle cx="528.1" cy="404.7" r="4.3" fill="#6e937f" fill-opacity="0.84"/>
<circle cx="478.5" cy="401.8" r="4.3" fill="#6e937f" fill-opacity="0.84"/>
<circle cx="470.4" cy="405.5" r="4.3" fill="#6e937f" fill-opacity="0.84"/>
<circle cx="547.8" cy="407.7" r="4.3" fill="#6e937f" fill-opacity="0.84"/>
<circle cx="471.5" cy="407.3" r="4.3" fill="#6e937f" fill-opacity="0.84"/>
<circle cx="474.1" cy="412.5" r="4.3" fill="#6e937f" fill-opacity="0.84"/>
<circle cx="485.5" cy="416" r="4.3" fill="#6e937f" fill-opacity="0.84"/>
<circle cx="490.8" cy="423" r="4.3" fill="#6e937f" fill-opacity="0.84"/>
<circle cx="489.9" cy="429.2" r="4.3" fill="#6e937f" fill-opacity="0.84"/>
<circle cx="480.3" cy="437" r="4.3" fill="#6e937f" fill-opacity="0.84"/>
<circle cx="494.3" cy="409" r="4.3" fill="#6e937f" fill-opacity="0.84"/>
<circle cx="503.9" cy="415.1" r="4.3" fill="#6e937f" fill-opacity="0.84"/>
<circle cx="504.8" cy="427.4" r="4.3" fill="#6e937f" fill-opacity="0.84"/>
<circle cx="513.6" cy="416.9" r="4.3" fill="#6e937f" fill-opacity="0.84"/>
<circle cx="521.4" cy="421.3" r="4.3" fill="#6e937f" fill-opacity="0.84"/>
<circle cx="548.6" cy="409.9" r="4.3" fill="#6e937f" fill-opacity="0.84"/>
<circle cx="543.3" cy="417.8" r="4.3" fill="#6e937f" fill-opacity="0.84"/>
<circle cx="548.6" cy="421.3" r="4.3" fill="#6e937f" fill-opacity="0.84"/>
<circle cx="523.2" cy="441.4" r="4.3" fill="#6e937f" fill-opacity="0.84"/>
<circle cx="526.7" cy="437.9" r="4.3" fill="#6e937f" fill-opacity="0.84"/>
<circle cx="449.6" cy="482.8" r="4.3" fill="#6e937f" fill-opacity="0.84"/>
<circle cx="420.4" cy="495.6" r="4.3" fill="#6e937f" fill-opacity="0.84"/>
<circle cx="484.7" cy="517.8" r="4.3" fill="#6e937f" fill-opacity="0.84"/>
<circle cx="512" cy="468" r="4.3" fill="#6e937f" fill-opacity="0.84"/>
<circle cx="523" cy="498.9" r="4.3" fill="#6e937f" fill-opacity="0.84"/>
<path d="M447.9,443.2L449.6,482.8M447.9,464.2L484.7,517.8M500.4,426.5L420.4,495.6M504.8,423.9L512,468M519,472.7L523,498.9M593.3,399.6L526.7,437.9M582.3,374.1L548.6,409.9M576.5,388L548.6,421.3M595.5,366.8L515.7,387.2M607.9,372.6L532.5,398.9M556.5,414.3L543.3,417.8M107.5,379.6L152,407.3M121.8,384.4L157.9,411.7M138.9,385.4L172.5,413.5M133.8,388.4L220.1,385.5M146.2,388.4L231.8,389.2M151.3,389.8L245,382.6M155.7,391.3L252.3,384.8M164.5,390.5L210.7,392.1M170.3,393.5L216.5,394.3M174.7,395L219.4,399.4M179.8,397.8L228.9,399.4M247.9,402.3L265.4,387M257.4,402.3L274.2,384.8M267.6,404.5L293.4,382M291.2,406.8L308.2,376.2M310.1,413.4L328.4,383.5M138.2,390.5L199,416.2M146.9,391.6L184.9,406.6M160,394.2L190.2,406.7M166.2,394.3L199,405.3M196,393.6L209.2,407.4M196,400.1L235.5,395M199.7,400.9L236.2,403.8M209.2,398.7L244.2,393.6M243.5,398L203.4,392.8M270,404.6L249.3,390.7M326.2,405.4L335.7,376.6M333.5,411.2L309.1,394.1M340,414.1L343,384.9M345.2,400.3L320.4,386M350.3,398.1L367.1,372.5M349.6,405.4L341.5,375.4M353.2,403.2L376.8,382.1M359.1,398.8L329.1,392.2M366.4,397.3L383.4,375.5M369.3,388.6L400.1,390.9M367.8,410.5L353.2,384.2M393.6,367.5L416.2,390.1M433.7,363.9L406.7,380.7M425.7,369L398,380.7M451.2,369.7L421.3,376.3M455.6,371.2L486.5,375.5M371.7,388.7L347.4,372.2M371.7,403.3L351.8,381.3M379.7,399.6L396.5,374.1M395,396.7L416.9,374.8M405.3,398.9L387.7,373.4M411.1,401.8L438.8,387.2M424.2,401.8L434.5,371.9M430.1,393.1L458.8,388M438.8,398.2L464.6,383.6M447.6,401.8L419.1,401.8M456.4,380.7L470.4,405.5M408.2,406.9L403.8,376.3M430.5,410.8L425.7,382.1M369.5,408.4L389.2,386.5M411.2,417.8L424.2,390.9M426.1,424.4L437.4,400.4M349.6,408.1L345.9,376.9M386.9,414L374.6,385M394.2,423.5L398,393.8M398.5,411.8L409.6,383.6M503.3,356.6L496.7,386.5M464.6,368.2L449.8,392.3M476.3,371.2L447.6,379.9M486.5,371.2L467.5,392.3M493.1,369L466.1,377.7M501.8,373.4L471.9,381.4M509.1,374.1L496.7,402.6M518.6,369L501.8,396.7M523.7,373.4L495.3,382.1M513.5,379.9L528.1,404.7M520.1,380.7L493.8,398.2M487.2,388.7L503.9,415.1M502.6,385L478.5,401.8M506.2,388L513.6,416.9M511.3,396.7L483.6,392.3M517.9,395.3L547.8,407.7M525.9,394.5L521.4,421.3M547.1,393.8L515,400.4M455.8,400.4L434.5,377.7M461,405.5L469,374.1M464.6,396L485.5,416M474.1,398.2L490.8,423M473.4,402.6L489.9,429.2M501.8,405.5L479.2,385M467.1,420.4L454.4,393.8M476.8,423L488,394.5M480.3,411.6L453.4,396.7M483.8,416.9L474.8,388M503,410.8L471.5,407.3M501.3,419.5L480.3,437M496.9,435.3L523.2,441.4M487.3,437.9L494.3,409M483.8,439.7L474.1,412.5M535.4,428.3L504.8,427.4M547.7,395.9L521.5,389.4" stroke="#aeaeae" stroke-width="1" fill="none" stroke-opacity="0.9"/>
<line x1="82.0" y1="349.1" x2="633.0" y2="349.1" stroke="#b8b8b8" stroke-width="1.6"/>
<line x1="82.0" y1="525.7" x2="633.0" y2="525.7" stroke="#b8b8b8" stroke-width="1.7"/>
<line x1="82.5" y1="348.6" x2="82.5" y2="526.2" stroke="#5f5f5f" stroke-width="1.05"/>
<line x1="632.5" y1="348.6" x2="632.5" y2="526.2" stroke="#5f5f5f" stroke-width="1.05"/>
<line x1="79.7" y1="360.8" x2="82.5" y2="360.8" stroke="#333" stroke-width="1"/>
<text x="77.4" y="364.8" font-size="11.2" fill="#333" text-anchor="end" >0.1</text>
<line x1="79.7" y1="396.7" x2="82.5" y2="396.7" stroke="#333" stroke-width="1"/>
<text x="77.4" y="400.7" font-size="11.2" fill="#333" text-anchor="end" >0.0</text>
<line x1="79.7" y1="432.6" x2="82.5" y2="432.6" stroke="#333" stroke-width="1"/>
<text x="77.4" y="436.6" font-size="11.2" fill="#333" text-anchor="end" >-0.1</text>
<line x1="79.7" y1="468.5" x2="82.5" y2="468.5" stroke="#333" stroke-width="1"/>
<text x="77.4" y="472.5" font-size="11.2" fill="#333" text-anchor="end" >-0.2</text>
<line x1="79.7" y1="504.4" x2="82.5" y2="504.4" stroke="#333" stroke-width="1"/>
<text x="77.4" y="508.4" font-size="11.2" fill="#333" text-anchor="end" >-0.3</text>
<line x1="220.2" y1="525.7" x2="220.2" y2="528.5" stroke="#333" stroke-width="1"/>
<text x="220.2" y="538.7" font-size="11" fill="#222" text-anchor="middle" >-0.2</text>
<line x1="391.8" y1="525.7" x2="391.8" y2="528.5" stroke="#333" stroke-width="1"/>
<text x="391.8" y="538.7" font-size="11" fill="#222" text-anchor="middle" >0.0</text>
<line x1="563.4" y1="525.7" x2="563.4" y2="528.5" stroke="#333" stroke-width="1"/>
<text x="563.4" y="538.7" font-size="11" fill="#222" text-anchor="middle" >0.2</text>
<text x="88.2" y="484.7" font-size="11.1" fill="#111" textLength="100" lengthAdjust="spacingAndGlyphs" >Procrustes analysis:</text>
<text x="88.2" y="500.7" font-size="11.1" fill="#111">M² = 0.267, <tspan font-style="italic">P</tspan> = 0.001</text>
<text x="340" y="548.3" font-size="11" fill="#111" text-anchor="middle" textLength="70.2" lengthAdjust="spacingAndGlyphs" >PC 1 (67.28%)</text>
<text x="52" y="436" font-size="11" fill="#111" text-anchor="middle" textLength="72.5" lengthAdjust="spacingAndGlyphs" transform="rotate(-90 52 436)" >PC 2 (20.68%)</text>
</svg></body></html>
